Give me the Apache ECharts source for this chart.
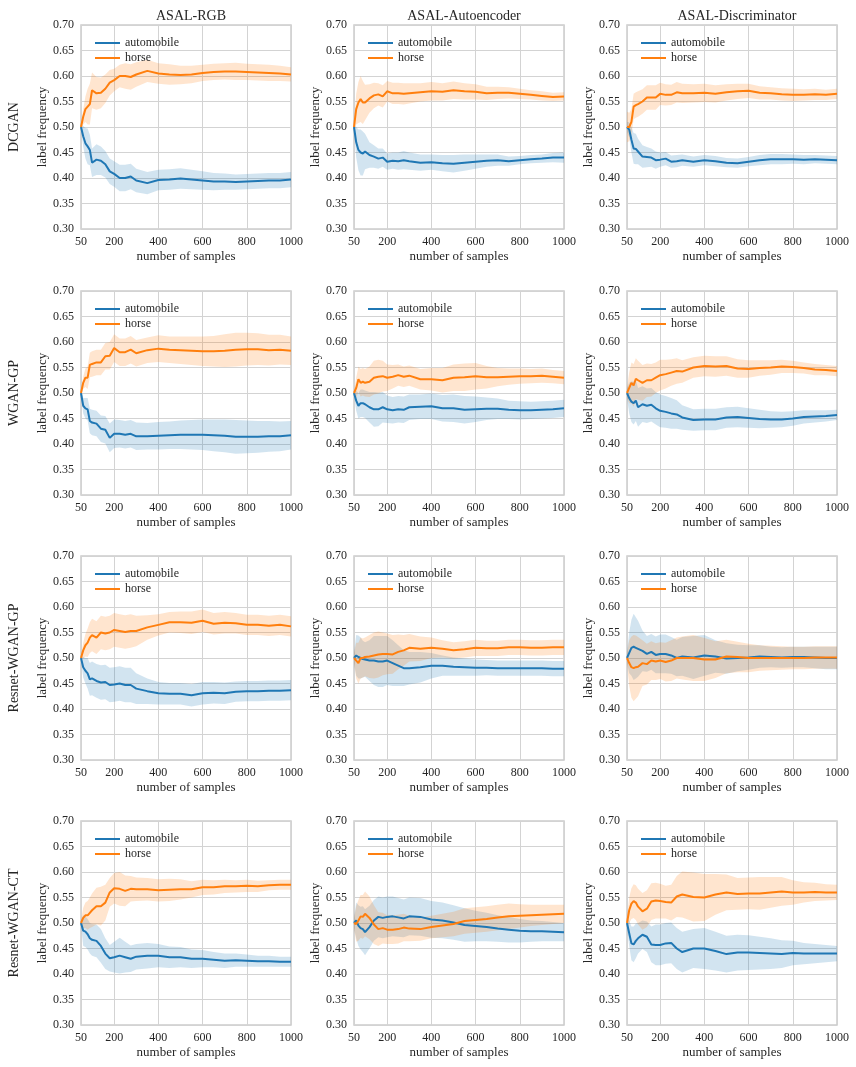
<!DOCTYPE html>
<html>
<head>
<meta charset="utf-8">
<script src="https://cdn.jsdelivr.net/npm/echarts@6/dist/echarts.min.js"></script>
<style>
  html, body { margin: 0; padding: 0; background: #fff; }
  #chart { width: 856px; height: 1067px; }
</style>
</head>
<body>
<div id="chart"></div>
<script>
// sample counts shared by every panel
const X = [50, 60, 70, 80, 90, 100, 120, 140, 160, 180, 200, 225, 250, 275, 300, 350, 400, 450, 500, 550, 600, 650, 700, 750, 800, 850, 900, 950, 1000];
const X_TICKS = [50, 200, 400, 600, 800, 1000];
const ROWS = ['DCGAN', 'WGAN-GP', 'Resnet-WGAN-GP', 'Resnet-WGAN-CT'];
const COLS = ['ASAL-RGB', 'ASAL-Autoencoder', 'ASAL-Discriminator'];

// DCGAN
const dcganRgbAuto    = [0.500,0.482,0.468,0.462,0.455,0.430,0.436,0.434,0.427,0.413,0.408,0.400,0.400,0.403,0.395,0.390,0.396,0.397,0.399,0.397,0.395,0.393,0.393,0.392,0.393,0.394,0.395,0.395,0.397];
const dcganRgbAutoSd  = [0.005,0.020,0.030,0.035,0.030,0.028,0.030,0.028,0.026,0.025,0.025,0.026,0.026,0.025,0.023,0.022,0.020,0.020,0.020,0.019,0.018,0.017,0.016,0.015,0.015,0.015,0.015,0.015,0.015];
const dcganRgbHorse   = [0.500,0.520,0.535,0.540,0.545,0.572,0.566,0.567,0.575,0.587,0.592,0.600,0.600,0.598,0.603,0.610,0.605,0.603,0.602,0.603,0.606,0.608,0.609,0.609,0.608,0.607,0.606,0.605,0.603];
const dcganRgbHorseSd = [0.005,0.015,0.025,0.035,0.040,0.035,0.032,0.030,0.028,0.025,0.022,0.022,0.025,0.025,0.024,0.022,0.020,0.020,0.018,0.017,0.016,0.016,0.016,0.017,0.016,0.016,0.016,0.015,0.014];

const dcganAeAuto    = [0.500,0.470,0.455,0.450,0.448,0.452,0.445,0.442,0.438,0.440,0.432,0.434,0.433,0.435,0.433,0.430,0.431,0.429,0.428,0.430,0.432,0.434,0.435,0.433,0.435,0.437,0.438,0.440,0.440];
const dcganAeAutoSd  = [0.005,0.030,0.040,0.045,0.043,0.035,0.025,0.022,0.020,0.018,0.016,0.016,0.017,0.018,0.017,0.016,0.015,0.016,0.017,0.016,0.014,0.012,0.011,0.009,0.008,0.008,0.008,0.009,0.010];
const dcganAeHorse   = [0.500,0.535,0.548,0.555,0.548,0.548,0.556,0.562,0.564,0.560,0.570,0.566,0.566,0.565,0.566,0.568,0.570,0.569,0.572,0.570,0.569,0.566,0.567,0.567,0.565,0.563,0.561,0.559,0.560];
const dcganAeHorseSd = [0.005,0.030,0.040,0.045,0.042,0.035,0.028,0.025,0.022,0.022,0.020,0.021,0.021,0.021,0.020,0.018,0.018,0.017,0.017,0.016,0.015,0.013,0.012,0.011,0.010,0.009,0.009,0.008,0.008];

const dcganDiscAuto    = [0.500,0.495,0.475,0.458,0.457,0.452,0.442,0.441,0.440,0.435,0.436,0.438,0.432,0.433,0.435,0.432,0.435,0.433,0.430,0.429,0.432,0.435,0.437,0.437,0.437,0.436,0.437,0.436,0.435];
const dcganDiscAutoSd  = [0.010,0.015,0.025,0.030,0.030,0.025,0.022,0.020,0.018,0.017,0.014,0.013,0.012,0.012,0.011,0.010,0.010,0.010,0.009,0.009,0.009,0.010,0.010,0.010,0.009,0.009,0.008,0.008,0.008];
const dcganDiscHorse   = [0.500,0.500,0.510,0.540,0.543,0.545,0.550,0.558,0.558,0.558,0.565,0.563,0.563,0.568,0.566,0.566,0.567,0.565,0.568,0.570,0.571,0.567,0.566,0.564,0.563,0.563,0.564,0.563,0.565];
const dcganDiscHorseSd = [0.030,0.028,0.025,0.025,0.025,0.025,0.024,0.024,0.024,0.024,0.022,0.021,0.020,0.020,0.019,0.018,0.018,0.017,0.016,0.015,0.014,0.013,0.012,0.012,0.012,0.011,0.011,0.010,0.010];

// WGAN-GP
const wganRgbAuto    = [0.500,0.475,0.470,0.468,0.445,0.442,0.440,0.430,0.428,0.412,0.420,0.420,0.418,0.420,0.415,0.415,0.416,0.417,0.418,0.418,0.418,0.417,0.416,0.414,0.414,0.414,0.415,0.415,0.417];
const wganRgbAutoSd  = [0.005,0.015,0.020,0.022,0.024,0.025,0.025,0.026,0.027,0.028,0.028,0.027,0.027,0.027,0.027,0.026,0.027,0.027,0.028,0.029,0.030,0.031,0.032,0.033,0.032,0.031,0.030,0.029,0.028];
const wganRgbHorse   = [0.500,0.520,0.530,0.530,0.555,0.557,0.560,0.560,0.572,0.573,0.588,0.580,0.580,0.585,0.578,0.584,0.587,0.585,0.584,0.583,0.582,0.582,0.583,0.585,0.586,0.586,0.584,0.585,0.583];
const wganRgbHorseSd = [0.005,0.012,0.018,0.022,0.024,0.025,0.025,0.025,0.026,0.027,0.027,0.027,0.027,0.027,0.026,0.025,0.026,0.026,0.027,0.028,0.029,0.030,0.032,0.033,0.032,0.031,0.030,0.029,0.028];

const wganAeAuto    = [0.500,0.485,0.475,0.480,0.480,0.478,0.472,0.468,0.468,0.472,0.468,0.466,0.468,0.467,0.472,0.473,0.474,0.470,0.470,0.467,0.468,0.469,0.469,0.467,0.466,0.466,0.467,0.468,0.470];
const wganAeAutoSd  = [0.005,0.020,0.025,0.027,0.027,0.027,0.030,0.034,0.033,0.030,0.027,0.026,0.026,0.026,0.025,0.024,0.025,0.026,0.027,0.027,0.025,0.022,0.020,0.018,0.018,0.017,0.017,0.017,0.017];
const wganAeHorse   = [0.500,0.510,0.527,0.520,0.522,0.520,0.522,0.530,0.532,0.533,0.530,0.532,0.535,0.532,0.534,0.527,0.527,0.525,0.530,0.531,0.533,0.531,0.531,0.532,0.533,0.533,0.534,0.532,0.530];
const wganAeHorseSd = [0.005,0.020,0.025,0.027,0.027,0.027,0.030,0.033,0.033,0.030,0.026,0.023,0.021,0.020,0.020,0.020,0.022,0.024,0.026,0.027,0.026,0.022,0.018,0.016,0.015,0.014,0.014,0.013,0.013];

const wganDiscAuto    = [0.500,0.490,0.483,0.480,0.485,0.472,0.478,0.475,0.477,0.470,0.465,0.463,0.460,0.458,0.452,0.447,0.448,0.448,0.452,0.453,0.451,0.449,0.448,0.448,0.450,0.453,0.454,0.455,0.457];
const wganDiscAutoSd  = [0.010,0.030,0.040,0.042,0.040,0.038,0.035,0.034,0.033,0.032,0.032,0.031,0.030,0.028,0.024,0.021,0.021,0.021,0.020,0.020,0.019,0.018,0.016,0.015,0.014,0.013,0.012,0.011,0.010];
const wganDiscHorse   = [0.500,0.510,0.520,0.515,0.528,0.525,0.520,0.525,0.525,0.530,0.535,0.537,0.540,0.543,0.542,0.550,0.553,0.552,0.553,0.548,0.547,0.549,0.550,0.552,0.551,0.549,0.546,0.545,0.543];
const wganDiscHorseSd = [0.010,0.030,0.040,0.042,0.040,0.038,0.035,0.033,0.032,0.030,0.030,0.028,0.026,0.025,0.022,0.020,0.020,0.020,0.019,0.018,0.017,0.015,0.014,0.013,0.012,0.011,0.011,0.010,0.010];

// Resnet-WGAN-GP
const resGpRgbAuto    = [0.500,0.482,0.475,0.470,0.458,0.460,0.455,0.452,0.453,0.447,0.448,0.450,0.447,0.447,0.440,0.435,0.431,0.430,0.430,0.427,0.431,0.432,0.431,0.434,0.435,0.435,0.436,0.436,0.437];
const resGpRgbAutoSd  = [0.005,0.020,0.025,0.030,0.032,0.033,0.033,0.034,0.034,0.034,0.034,0.034,0.034,0.034,0.030,0.025,0.022,0.021,0.021,0.022,0.022,0.021,0.021,0.020,0.020,0.020,0.020,0.020,0.020];
const resGpRgbHorse   = [0.500,0.515,0.525,0.530,0.540,0.545,0.540,0.550,0.548,0.550,0.555,0.553,0.551,0.553,0.553,0.560,0.565,0.570,0.570,0.569,0.573,0.567,0.569,0.568,0.565,0.565,0.563,0.565,0.562];
const resGpRgbHorseSd = [0.005,0.015,0.022,0.028,0.030,0.032,0.032,0.033,0.033,0.033,0.033,0.033,0.033,0.033,0.030,0.024,0.021,0.020,0.021,0.022,0.022,0.021,0.021,0.020,0.020,0.020,0.020,0.020,0.020];

const resGpAeAuto    = [0.500,0.505,0.502,0.500,0.498,0.497,0.495,0.495,0.493,0.493,0.495,0.490,0.485,0.480,0.480,0.482,0.485,0.485,0.483,0.482,0.481,0.481,0.480,0.480,0.480,0.480,0.480,0.479,0.479];
const resGpAeAutoSd  = [0.010,0.040,0.042,0.040,0.036,0.034,0.040,0.048,0.050,0.050,0.048,0.045,0.040,0.035,0.032,0.030,0.025,0.020,0.018,0.017,0.016,0.015,0.015,0.015,0.015,0.015,0.015,0.015,0.015];
const resGpAeHorse   = [0.500,0.495,0.490,0.500,0.500,0.502,0.503,0.505,0.507,0.508,0.508,0.507,0.512,0.515,0.520,0.518,0.520,0.518,0.515,0.517,0.520,0.519,0.519,0.521,0.521,0.520,0.520,0.521,0.521];
const resGpAeHorseSd = [0.010,0.035,0.040,0.040,0.038,0.038,0.042,0.045,0.045,0.042,0.040,0.038,0.034,0.030,0.027,0.024,0.020,0.017,0.016,0.016,0.016,0.015,0.015,0.015,0.015,0.015,0.015,0.015,0.015];

const resGpDiscAuto    = [0.500,0.510,0.520,0.522,0.520,0.518,0.514,0.508,0.512,0.506,0.508,0.508,0.505,0.500,0.503,0.501,0.505,0.503,0.499,0.500,0.501,0.503,0.502,0.501,0.502,0.502,0.501,0.500,0.500];
const resGpDiscAutoSd  = [0.010,0.040,0.055,0.065,0.060,0.055,0.040,0.035,0.035,0.036,0.038,0.038,0.036,0.036,0.038,0.042,0.040,0.032,0.030,0.026,0.024,0.022,0.020,0.020,0.020,0.020,0.021,0.022,0.022];
const resGpDiscHorse   = [0.500,0.490,0.482,0.480,0.482,0.483,0.490,0.488,0.495,0.493,0.495,0.492,0.495,0.500,0.500,0.500,0.497,0.497,0.503,0.502,0.500,0.500,0.500,0.500,0.500,0.500,0.501,0.501,0.501];
const resGpDiscHorseSd = [0.010,0.045,0.060,0.065,0.062,0.058,0.045,0.040,0.038,0.036,0.036,0.038,0.040,0.040,0.042,0.045,0.042,0.036,0.033,0.030,0.028,0.025,0.024,0.023,0.022,0.022,0.022,0.022,0.022];

// Resnet-WGAN-CT
const resCtRgbAuto    = [0.500,0.485,0.483,0.478,0.470,0.467,0.465,0.455,0.440,0.431,0.433,0.436,0.433,0.430,0.434,0.436,0.436,0.433,0.433,0.430,0.430,0.428,0.426,0.427,0.426,0.425,0.425,0.424,0.424];
const resCtRgbAutoSd  = [0.005,0.030,0.030,0.030,0.030,0.031,0.032,0.033,0.030,0.026,0.030,0.035,0.030,0.026,0.025,0.025,0.023,0.021,0.020,0.018,0.017,0.015,0.014,0.013,0.012,0.011,0.011,0.010,0.010];
const resCtRgbHorse   = [0.500,0.510,0.515,0.515,0.520,0.525,0.533,0.533,0.540,0.560,0.568,0.567,0.563,0.567,0.566,0.566,0.564,0.565,0.566,0.566,0.570,0.570,0.572,0.572,0.573,0.572,0.574,0.575,0.575];
const resCtRgbHorseSd = [0.005,0.020,0.025,0.028,0.030,0.033,0.036,0.038,0.035,0.028,0.030,0.033,0.030,0.025,0.023,0.022,0.022,0.022,0.020,0.016,0.015,0.014,0.013,0.012,0.012,0.011,0.010,0.010,0.010];

const resCtAeAuto    = [0.500,0.505,0.495,0.490,0.488,0.482,0.492,0.505,0.512,0.510,0.512,0.513,0.511,0.509,0.513,0.512,0.507,0.505,0.501,0.496,0.494,0.492,0.489,0.487,0.485,0.484,0.484,0.483,0.482];
const resCtAeAutoSd  = [0.010,0.035,0.040,0.042,0.045,0.045,0.042,0.040,0.040,0.040,0.040,0.039,0.038,0.037,0.037,0.037,0.036,0.035,0.034,0.033,0.030,0.028,0.026,0.025,0.023,0.021,0.020,0.019,0.018];
const resCtAeHorse   = [0.500,0.498,0.505,0.513,0.512,0.518,0.510,0.497,0.488,0.490,0.487,0.487,0.488,0.491,0.489,0.488,0.492,0.495,0.498,0.504,0.506,0.508,0.511,0.513,0.514,0.515,0.516,0.517,0.518];
const resCtAeHorseSd = [0.010,0.035,0.040,0.042,0.043,0.044,0.042,0.038,0.033,0.030,0.028,0.028,0.028,0.027,0.025,0.023,0.022,0.023,0.024,0.025,0.025,0.025,0.025,0.025,0.023,0.021,0.020,0.019,0.018];

const resCtDiscAuto    = [0.500,0.480,0.460,0.458,0.465,0.470,0.477,0.473,0.458,0.457,0.457,0.460,0.461,0.450,0.443,0.450,0.450,0.445,0.439,0.442,0.442,0.441,0.440,0.439,0.441,0.440,0.440,0.440,0.440];
const resCtDiscAutoSd  = [0.010,0.025,0.033,0.035,0.034,0.030,0.028,0.030,0.035,0.040,0.040,0.040,0.040,0.040,0.040,0.038,0.040,0.038,0.036,0.035,0.034,0.032,0.030,0.027,0.024,0.021,0.019,0.017,0.015];
const resCtDiscHorse   = [0.500,0.525,0.538,0.543,0.540,0.532,0.523,0.528,0.542,0.544,0.543,0.541,0.540,0.552,0.556,0.551,0.550,0.556,0.560,0.557,0.558,0.558,0.560,0.562,0.560,0.560,0.561,0.560,0.560];
const resCtDiscHorseSd = [0.010,0.025,0.030,0.033,0.034,0.035,0.036,0.036,0.036,0.035,0.034,0.032,0.035,0.040,0.045,0.048,0.046,0.040,0.035,0.031,0.031,0.032,0.030,0.028,0.024,0.020,0.018,0.016,0.015];

const panels = [
  [dcganRgbAuto, dcganRgbAutoSd, dcganRgbHorse, dcganRgbHorseSd],
  [dcganAeAuto, dcganAeAutoSd, dcganAeHorse, dcganAeHorseSd],
  [dcganDiscAuto, dcganDiscAutoSd, dcganDiscHorse, dcganDiscHorseSd],
  [wganRgbAuto, wganRgbAutoSd, wganRgbHorse, wganRgbHorseSd],
  [wganAeAuto, wganAeAutoSd, wganAeHorse, wganAeHorseSd],
  [wganDiscAuto, wganDiscAutoSd, wganDiscHorse, wganDiscHorseSd],
  [resGpRgbAuto, resGpRgbAutoSd, resGpRgbHorse, resGpRgbHorseSd],
  [resGpAeAuto, resGpAeAutoSd, resGpAeHorse, resGpAeHorseSd],
  [resGpDiscAuto, resGpDiscAutoSd, resGpDiscHorse, resGpDiscHorseSd],
  [resCtRgbAuto, resCtRgbAutoSd, resCtRgbHorse, resCtRgbHorseSd],
  [resCtAeAuto, resCtAeAutoSd, resCtAeHorse, resCtAeHorseSd],
  [resCtDiscAuto, resCtDiscAutoSd, resCtDiscHorse, resCtDiscHorseSd]
];

const BLUE = '#1f77b4';
const ORANGE = '#ff7f0e';
const FONT = 'Liberation Serif';
const TEXT = '#262626';

const gridLefts = [81, 354, 627];
const gridTops = [25, 291, 556, 821];
const GW = 210, GH = 204;

const chart = echarts.init(document.getElementById('chart'), null, { renderer: 'canvas' });

const grid = [], xAxis = [], yAxis = [], series = [], legend = [], title = [], graphic = [];

// band = mean ± sd, one polygon per series
function band(idx, name, mean, sd, color) {
  const rows = X.map((x, i) => [x, +(mean[i] - sd[i]).toFixed(4), +(mean[i] + sd[i]).toFixed(4)]);
  series.push({
    type: 'custom', name: name + ' band', xAxisIndex: idx, yAxisIndex: idx,
    data: rows, encode: { x: 0, y: [1, 2] }, silent: true, z: 1,
    renderItem: (params, api) => {
      if (params.dataIndex !== 0) return null;
      const upper = rows.map(d => api.coord([d[0], d[2]]));
      const lower = rows.map(d => api.coord([d[0], d[1]])).reverse();
      return {
        type: 'polygon',
        shape: { points: upper.concat(lower) },
        style: { fill: color, opacity: 0.2 }
      };
    }
  });
}

panels.forEach((p, idx) => {
  const r = Math.floor(idx / 3), c = idx % 3;
  grid.push({
    left: gridLefts[c], top: gridTops[r], width: GW, height: GH,
    show: true, borderColor: '#cccccc', borderWidth: 1.5, backgroundColor: '#fff'
  });
  xAxis.push({
    type: 'value', gridIndex: idx, min: 50, max: 1000,
    name: 'number of samples', nameLocation: 'middle', nameGap: 21,
    nameTextStyle: { fontFamily: FONT, fontSize: 13, color: TEXT },
    axisLine: { show: false },
    axisTick: { show: false, customValues: X_TICKS },
    axisLabel: { customValues: X_TICKS, formatter: v => String(v), fontFamily: FONT, fontSize: 12, color: TEXT, margin: 7 },
    splitLine: { show: true, lineStyle: { color: '#d3d3d3', width: 1 } }
  });
  yAxis.push({
    type: 'value', gridIndex: idx, min: 0.30, max: 0.70, interval: 0.05,
    name: 'label frequency', nameLocation: 'middle', nameGap: 31,
    nameTextStyle: { fontFamily: FONT, fontSize: 13, color: TEXT },
    axisLine: { show: false }, axisTick: { show: false },
    axisLabel: { formatter: v => v.toFixed(2), fontFamily: FONT, fontSize: 12, color: TEXT, margin: 7 },
    splitLine: { show: true, lineStyle: { color: '#d3d3d3', width: 1 } }
  });
  band(idx, 'automobile', p[0], p[1], BLUE);
  band(idx, 'horse', p[2], p[3], ORANGE);
  series.push({
    type: 'line', name: 'automobile', xAxisIndex: idx, yAxisIndex: idx,
    data: X.map((x, i) => [x, p[0][i]]), symbol: 'none',
    lineStyle: { color: BLUE, width: 2 }, itemStyle: { color: BLUE }, z: 3
  });
  series.push({
    type: 'line', name: 'horse', xAxisIndex: idx, yAxisIndex: idx,
    data: X.map((x, i) => [x, p[2][i]]), symbol: 'none',
    lineStyle: { color: ORANGE, width: 2 }, itemStyle: { color: ORANGE }, z: 3
  });
  legend.push({
    data: ['automobile', 'horse'], orient: 'vertical', icon: 'rect',
    left: gridLefts[c] + 9, top: gridTops[r] + 7,
    itemWidth: 25, itemHeight: 2, itemGap: 3,
    textStyle: { fontFamily: FONT, fontSize: 12, color: TEXT }, selectedMode: false
  });
});

COLS.forEach((name, c) => {
  title.push({
    text: name, left: gridLefts[c] + GW / 2, top: 4, textAlign: 'center',
    textStyle: { fontFamily: FONT, fontSize: 14, fontWeight: 'normal', color: TEXT }
  });
});

ROWS.forEach((name, r) => {
  graphic.push({
    type: 'text', x: 14, y: gridTops[r] + GH / 2, rotation: Math.PI / 2,
    style: { text: name, fontFamily: FONT, fontSize: 14, fill: TEXT, textAlign: 'center', textVerticalAlign: 'middle' }
  });
});

chart.setOption({
  animation: false,
  backgroundColor: '#fff',
  title: title,
  legend: legend,
  grid: grid,
  xAxis: xAxis,
  yAxis: yAxis,
  series: series,
  graphic: graphic
});
</script>
</body>
</html>
